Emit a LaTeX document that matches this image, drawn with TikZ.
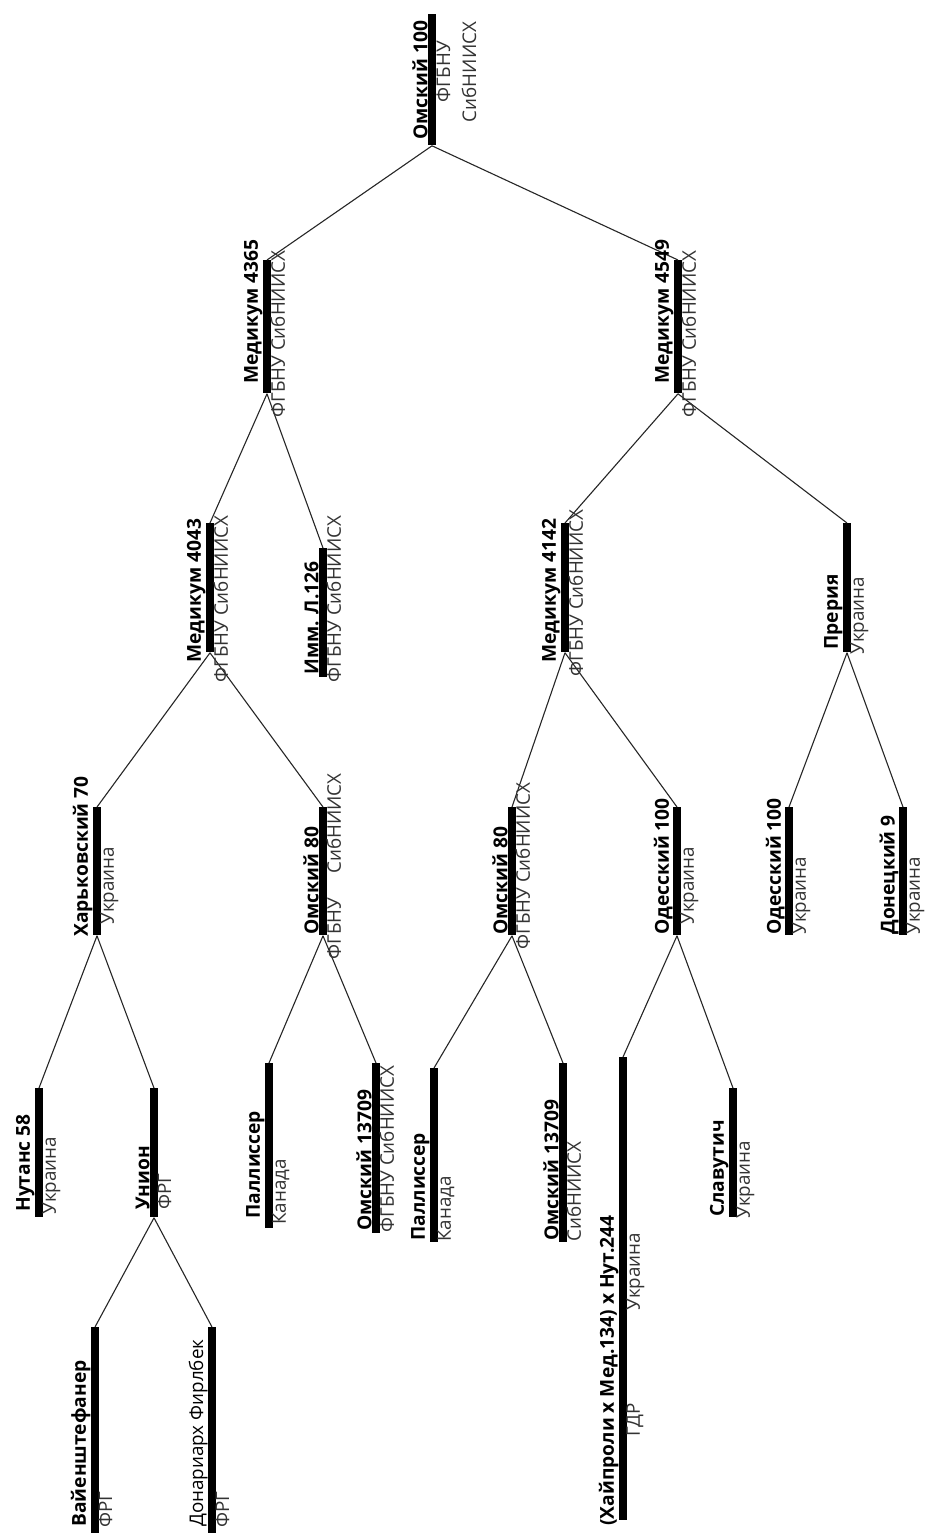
\documentclass[tikz,border=0pt]{standalone}
\usepackage{fontspec}
\setmainfont{Open Sans}
\begin{document}
\begin{tikzpicture}[x=0.5pt,y=-0.5pt,
  barnode/.style={fill=black,draw=none,inner sep=0pt,minimum width=3.6pt,anchor=north,rectangle},
  edge/.style={draw=black!85,line width=0.55pt},
  lt/.style={rotate=90,anchor=south west,inner sep=0pt,font=\fontsize{9.6}{12}\selectfont\bfseries},
  ltn/.style={rotate=90,anchor=south west,inner sep=0pt,font=\fontsize{9.4}{12}\selectfont},
  rt/.style={rotate=90,anchor=north west,inner sep=0pt,font=\fontsize{9.4}{12}\selectfont,text=black!80}]
\useasboundingbox[fill=white] (0,0) rectangle (925,1533);
\newcommand\pbar[4]{\node[barnode,minimum height={(#4-#3)*0.5pt}] (#1) at (#2,#3) {};}
\newcommand\llab[4]{\node[lt] (#1l) at ({#2-4},#3) {#4};}
\newcommand\rlab[4]{\node[rt] (#1r) at ({#2+3},#3) {#4};}
% bars
\pbar{root}{432}{14}{145}
\pbar{ma}{267}{260}{393}
\pbar{mb}{678}{260}{393}
\pbar{mc}{210}{523}{652}
\pbar{imm}{323}{548}{677}
\pbar{md}{565}{523}{652}
\pbar{pre}{847}{523}{652}
\pbar{kh}{97}{807}{935}
\pbar{oa}{323}{807}{935}
\pbar{ob}{512}{807}{935}
\pbar{oda}{677}{807}{935}
\pbar{odb}{789}{807}{935}
\pbar{don}{903}{807}{935}
\pbar{nut}{39}{1088}{1217}
\pbar{uni}{154}{1088}{1217}
\pbar{pa}{269}{1063}{1228}
\pbar{oc}{376}{1063}{1233}
\pbar{pb}{434}{1068}{1242}
\pbar{od}{563}{1063}{1242}
\pbar{hay}{623}{1057}{1520}
\pbar{sla}{733}{1088}{1217}
\pbar{vay}{95}{1327}{1533}
\pbar{dfi}{212}{1327}{1533}
% edges
\draw[edge] (root.south) -- (ma.north);
\draw[edge] (root.south) -- (mb.north);
\draw[edge] (ma.south) -- (mc.north);
\draw[edge] (ma.south) -- (imm.north);
\draw[edge] (mb.south) -- (md.north);
\draw[edge] (mb.south) -- (pre.north);
\draw[edge] (mc.south) -- (kh.north);
\draw[edge] (mc.south) -- (oa.north);
\draw[edge] (md.south) -- (ob.north);
\draw[edge] (md.south) -- (oda.north);
\draw[edge] (pre.south) -- (odb.north);
\draw[edge] (pre.south) -- (don.north);
\draw[edge] (kh.south) -- (nut.north);
\draw[edge] (kh.south) -- (uni.north);
\draw[edge] (oa.south) -- (pa.north);
\draw[edge] (oa.south) -- (oc.north);
\draw[edge] (ob.south) -- (pb.north);
\draw[edge] (ob.south) -- (od.north);
\draw[edge] (oda.south) -- (hay.north);
\draw[edge] (oda.south) -- (sla.north);
\draw[edge] (uni.south) -- (vay.north);
\draw[edge] (uni.south) -- (dfi.north);
% left labels
\llab{root}{432}{140}{Омский 100}
\llab{ma}{267}{384}{Медикум 4365}
\llab{mb}{678}{384}{Медикум 4549}
\llab{mc}{210}{663}{Медикум 4043}
\llab{imm}{323}{675}{Имм. Л.126}
\llab{md}{565}{663}{Медикум 4142}
\llab{pre}{847}{650}{Прерия}
\llab{kh}{97}{937}{Харьковский 70}
\llab{oa}{323}{935}{Омский 80}
\llab{ob}{512}{935}{Омский 80}
\llab{oda}{677}{935}{Одесский 100}
\llab{odb}{789}{935}{Одесский 100}
\llab{don}{903}{935}{Донецкий 9}
\llab{nut}{39}{1212}{Нутанс 58}
\llab{uni}{154}{1210}{Унион}
\llab{pa}{269}{1219}{Паллиссер}
\llab{oc}{376}{1231}{Омский 13709}
\llab{pb}{434}{1241}{Паллиссер}
\llab{od}{563}{1241}{Омский 13709}
\llab{hay}{623}{1526}{(Хайпроли х Мед.134) х Нут.244}
\llab{sla}{733}{1217}{Славутич}
\llab{vay}{95}{1527}{Вайенштефанер}
\node[ltn] (dfil) at (208,1527) {Донариарх Фирлбек};
% right labels
\node[rotate=90,anchor=north,inner sep=0pt,align=center,font=\fontsize{9.4}{13}\selectfont,text=black!80] (rootr) at (436,72) {ФГБНУ\\СибНИИСХ};
\rlab{ma}{267}{418}{ФГБНУ СибНИИСХ}
\rlab{mb}{678}{418}{ФГБНУ СибНИИСХ}
\rlab{mc}{210}{683}{ФГБНУ СибНИИСХ}
\rlab{imm}{323}{683}{ФГБНУ СибНИИСХ}
\rlab{md}{565}{677}{ФГБНУ СибНИИСХ}
\rlab{pre}{847}{655}{Украина}
\rlab{kh}{97}{925}{Украина}
\rlab{oa}{323}{960}{ФГБНУ\hspace{12pt}СибНИИСХ}
\rlab{ob}{512}{950}{ФГБНУ СибНИИСХ}
\rlab{oda}{677}{925}{Украина}
\rlab{odb}{789}{935}{Украина}
\rlab{don}{903}{935}{Украина}
\rlab{nut}{39}{1215}{Украина}
\rlab{uni}{154}{1210}{ФРГ}
\rlab{pa}{269}{1225}{Канада}
\rlab{oc}{376}{1233}{ФГБНУ СибНИИСХ}
\rlab{pb}{434}{1242}{Канада}
\rlab{od}{563}{1242}{СибНИИСХ}
\rlab{hay}{623}{1437}{ГДР}
\node[rt] (hayr2) at (626,1311) {Украина};
\rlab{sla}{733}{1219}{Украина}
\rlab{vay}{95}{1528}{ФРГ}
\rlab{dfi}{212}{1528}{ФРГ}
\end{tikzpicture}
\end{document}
